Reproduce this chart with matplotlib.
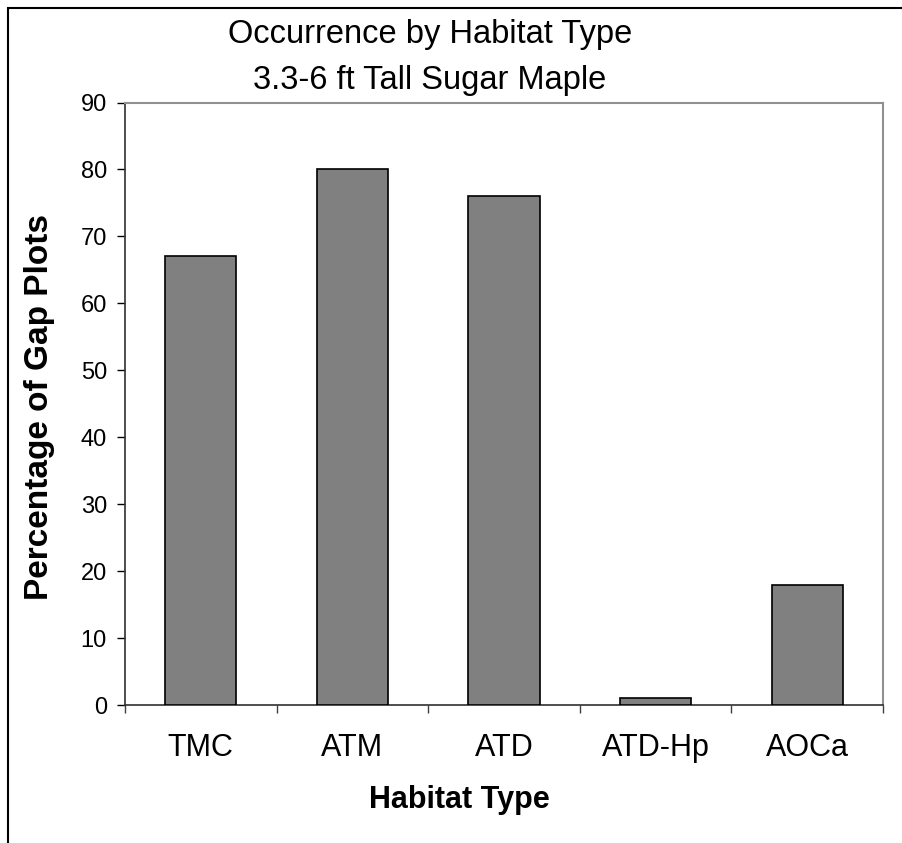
import matplotlib
matplotlib.use("Agg")
import matplotlib.pyplot as plt
from matplotlib.patches import Rectangle
import numpy as np

plt.rcParams['font.family'] = ['Liberation Sans', 'DejaVu Sans']

# data
habitats = ["TMC", "ATM", "ATD", "ATD-Hp", "AOCa"]
pct_gap_plots = [67, 80, 76, 1, 18]
yticks = [0, 10, 20, 30, 40, 50, 60, 70, 80, 90]

W, H = 902, 843
fig = plt.figure(figsize=(W / 100, H / 100), dpi=100)
ax = fig.add_axes([125 / W, 1 - 705 / H, (883 - 125) / W, (705 - 102.5) / H])

x = np.arange(len(habitats))
ax.bar(x, pct_gap_plots, width=0.47, color="#808080", edgecolor="black", linewidth=1.2, zorder=3)

ax.set_xlim(-0.5, len(habitats) - 0.5)
ax.set_ylim(0, 90)
ax.set_yticks(yticks)
ax.tick_params(axis="y", direction="out", length=6, width=1, labelsize=17, pad=7, colors="black")

# labels at centres, tick marks at category boundaries
ax.set_xticks(x)
ax.set_xticklabels(habitats)
ax.set_xticks(np.arange(len(habitats) + 1) - 0.5, minor=True)
ax.tick_params(axis="x", which="major", length=0, labelsize=22, pad=20)
ax.tick_params(axis="x", which="minor", direction="out", length=6, width=1, color="#404040")

for s in ["left", "bottom"]:
    ax.spines[s].set_color("#303030")
    ax.spines[s].set_linewidth(1.2)
for s in ["top", "right"]:
    ax.spines[s].set_color("#909090")
    ax.spines[s].set_linewidth(1.5)

fig.text(430 / W, 1 - 35 / H, "Occurrence by Habitat Type", ha="center", va="center", fontsize=23.5)
fig.text(430 / W, 1 - 80 / H, "3.3-6 ft Tall Sugar Maple", ha="center", va="center", fontsize=23.5)
fig.text(459 / W, 1 - 800 / H, "Habitat Type", ha="center", va="center", fontsize=22, fontweight="bold")
fig.text(40 / W, 1 - 407 / H, "Percentage of Gap Plots", ha="center", va="center",
         fontsize=24, fontweight="bold", rotation=90)

# outer chart border (right/bottom edges fall outside the image)
fig.patches.append(Rectangle((8 / W, -0.1), 1.2, 1 - 8 / H + 0.1, transform=fig.transFigure,
                             fill=False, edgecolor="black", linewidth=1.5))

fig.savefig("out.png", dpi=100)
